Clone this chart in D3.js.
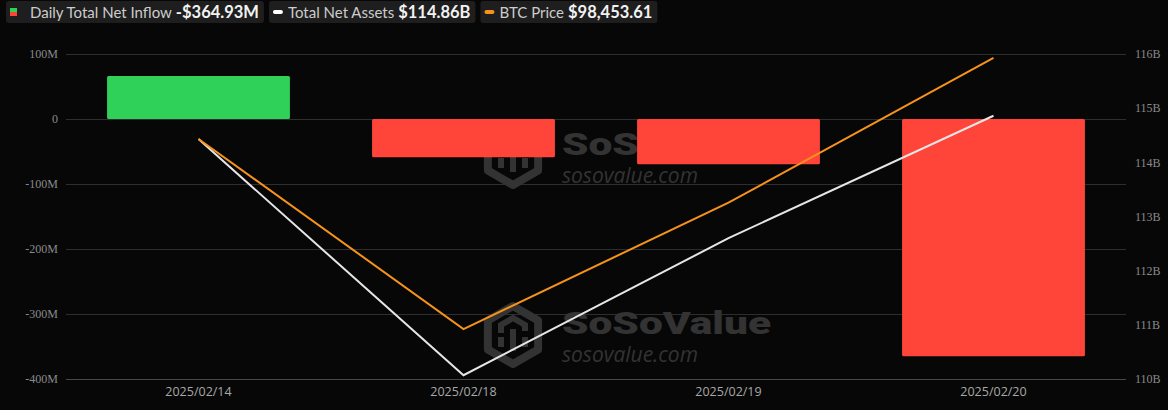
<!DOCTYPE html>
<html>
<head>
<meta charset="utf-8">
<script src="https://cdn.jsdelivr.net/npm/d3@7"></script>
<style>
  body { margin: 0; background: #070707; }
  #chart { width: 1168px; height: 410px; }
</style>
</head>
<body>
<div id="chart"></div>
<script>
// data
const dates = ['2025/02/14', '2025/02/18', '2025/02/19', '2025/02/20'];
const netInflow = [66.2, -59.0, -69.7, -364.93];      // million USD
const netAssets = [114.43, 110.07, 112.60, 114.86];   // billion USD
const btcPrice = [97600, 95600, 96930, 98453.61];
const leftTicks = [100, 0, -100, -200, -300, -400];
const rightTicks = [116, 115, 114, 113, 112, 111, 110];

const width = 1168;
const height = 410;
const margin = { top: 54, bottom: 31, left: 66, right: 42 };

const svg = d3.select('#chart')
    .append('svg')
    .attr('width', width)
    .attr('height', height)
    .style('background', '#070707');

const x = d3.scaleBand()
    .domain(dates)
    .range([margin.left, width - margin.right])
    .paddingInner(0.31)
    .paddingOuter(0.155);

const yLeft = d3.scaleLinear()
    .domain([-400, 100])
    .range([height - margin.bottom, margin.top]);

const yRight = d3.scaleLinear()
    .domain([110, 116])
    .range([height - margin.bottom, margin.top]);

// price has its own hidden axis
const yPrice = d3.scaleLinear()
    .domain([95074, 98495])
    .range([height - margin.bottom, margin.top]);

// grid
svg.append('g')
    .selectAll('line')
    .data(leftTicks)
    .join('line')
        .attr('x1', margin.left)
        .attr('x2', width - margin.right)
        .attr('y1', d => yLeft(d) + 0.5)
        .attr('y2', d => yLeft(d) + 0.5)
        .attr('stroke', d => d === -400 ? '#484848' : '#2e2e2e');

// left axis labels
svg.append('g')
    .selectAll('text')
    .data(leftTicks)
    .join('text')
        .attr('x', margin.left - 8)
        .attr('y', d => yLeft(d))
        .attr('dy', '0.35em')
        .attr('text-anchor', 'end')
        .attr('fill', '#8a8a8a')
        .attr('font-family', 'Liberation Serif, serif')
        .attr('font-size', 12)
        .text(d => d === 0 ? '0' : d + 'M');

// right axis labels
svg.append('g')
    .selectAll('text')
    .data(rightTicks)
    .join('text')
        .attr('x', width - margin.right + 9)
        .attr('y', d => yRight(d))
        .attr('dy', '0.35em')
        .attr('fill', '#8a8a8a')
        .attr('font-family', 'Liberation Serif, serif')
        .attr('font-size', 12)
        .text(d => d + 'B');

// x labels
svg.append('g')
    .selectAll('text')
    .data(dates)
    .join('text')
        .attr('x', d => x(d) + x.bandwidth() / 2)
        .attr('y', height - 14)
        .attr('text-anchor', 'middle')
        .attr('fill', '#a8a8a8')
        .attr('font-family', 'Open Sans, sans-serif')
        .attr('font-size', 12.5)
        .text(d => d);

// watermarks
function watermark(cy) {
    const col = '#333333';
    const g = svg.append('g').attr('fill', col);
    const hx = 513, r = 29;
    const hex = d3.range(6).map(i => {
        const a = Math.PI / 3 * i - Math.PI / 2;
        return [hx + r * Math.cos(a), cy + r * Math.sin(a)];
    });
    g.append('path')
        .attr('d', 'M' + hex.join('L') + 'Z')
        .attr('fill', 'none')
        .attr('stroke', col)
        .attr('stroke-width', 8)
        .attr('stroke-linejoin', 'round');
    g.append('path')
        .attr('d', `M${hx - 12},${cy - 2}v-8l12,-7l12,7v6M${hx - 12},${cy + 2}v10M${hx + 12},${cy + 2}v10M${hx},${cy - 6}v22`)
        .attr('fill', 'none')
        .attr('stroke', col)
        .attr('stroke-width', 6);
    g.append('text')
        .attr('x', 562)
        .attr('y', cy - 1)
        .attr('font-family', 'Roboto, sans-serif')
        .attr('font-weight', 900)
        .attr('font-size', 32)
        .attr('textLength', 209)
        .attr('lengthAdjust', 'spacingAndGlyphs')
        .text('SoSoValue');
    g.append('text')
        .attr('x', 562)
        .attr('y', cy + 27)
        .attr('font-family', 'Open Sans, sans-serif')
        .attr('font-style', 'italic')
        .attr('font-size', 21)
        .attr('textLength', 136)
        .text('sosovalue.com');
}
watermark(156);
watermark(335);

// bars
svg.append('g')
    .selectAll('rect')
    .data(netInflow)
    .join('rect')
        .attr('x', (d, i) => x(dates[i]))
        .attr('y', d => yLeft(Math.max(0, d)))
        .attr('width', x.bandwidth())
        .attr('height', d => Math.abs(yLeft(d) - yLeft(0)))
        .attr('rx', 1.5)
        .attr('fill', d => d >= 0 ? '#30d158' : '#ff453a');

// lines
const cx = (d, i) => x(dates[i]) + x.bandwidth() / 2;

svg.append('path')
    .datum(netAssets)
    .attr('fill', 'none')
    .attr('stroke', '#e6e6e6')
    .attr('stroke-width', 2)
    .attr('d', d3.line().x(cx).y(d => yRight(d)));

svg.append('path')
    .datum(btcPrice)
    .attr('fill', 'none')
    .attr('stroke', '#f7931a')
    .attr('stroke-width', 2)
    .attr('d', d3.line().x(cx).y(d => yPrice(d)));

// legend
const legendItems = [
    { label: 'Daily Total Net Inflow', value: '-$' + Math.abs(netInflow[3]).toFixed(2) + 'M', type: 'bar' },
    { label: 'Total Net Assets', value: '$' + netAssets[3].toFixed(2) + 'B', type: 'line', color: '#ffffff' },
    { label: 'BTC Price', value: '$' + d3.format(',.2f')(btcPrice[3]), type: 'line', color: '#f7931a' }
];

let lx = 6;
legendItems.forEach(item => {
    const g = svg.append('g');
    const box = g.append('rect')
        .attr('x', lx).attr('y', 1)
        .attr('height', 22).attr('rx', 3)
        .attr('fill', '#1e1e1e');
    let tx;
    if (item.type === 'bar') {
        g.append('rect').attr('x', lx + 4).attr('y', 8).attr('width', 7).attr('height', 4).attr('fill', '#30d158');
        g.append('rect').attr('x', lx + 4).attr('y', 12).attr('width', 7).attr('height', 4).attr('fill', '#ff453a');
        tx = lx + 24;
    } else {
        g.append('rect').attr('x', lx + 4).attr('y', 10).attr('width', 10).attr('height', 4).attr('rx', 2).attr('fill', item.color);
        tx = lx + 19;
    }
    const t1 = g.append('text')
        .attr('x', tx).attr('y', 17.5)
        .attr('fill', '#cccccc')
        .attr('font-family', 'Lato, sans-serif')
        .attr('font-size', 15)
        .text(item.label);
    tx += t1.node().getComputedTextLength() + 4;
    const t2 = g.append('text')
        .attr('x', tx).attr('y', 17.5)
        .attr('fill', '#f2f2f2')
        .attr('font-family', 'Lato, sans-serif')
        .attr('font-weight', 'bold')
        .attr('font-size', 16.5)
        .text(item.value);
    tx += t2.node().getComputedTextLength() + 5;
    box.attr('width', tx - lx);
    lx = tx + 5;
});
</script>
</body>
</html>
